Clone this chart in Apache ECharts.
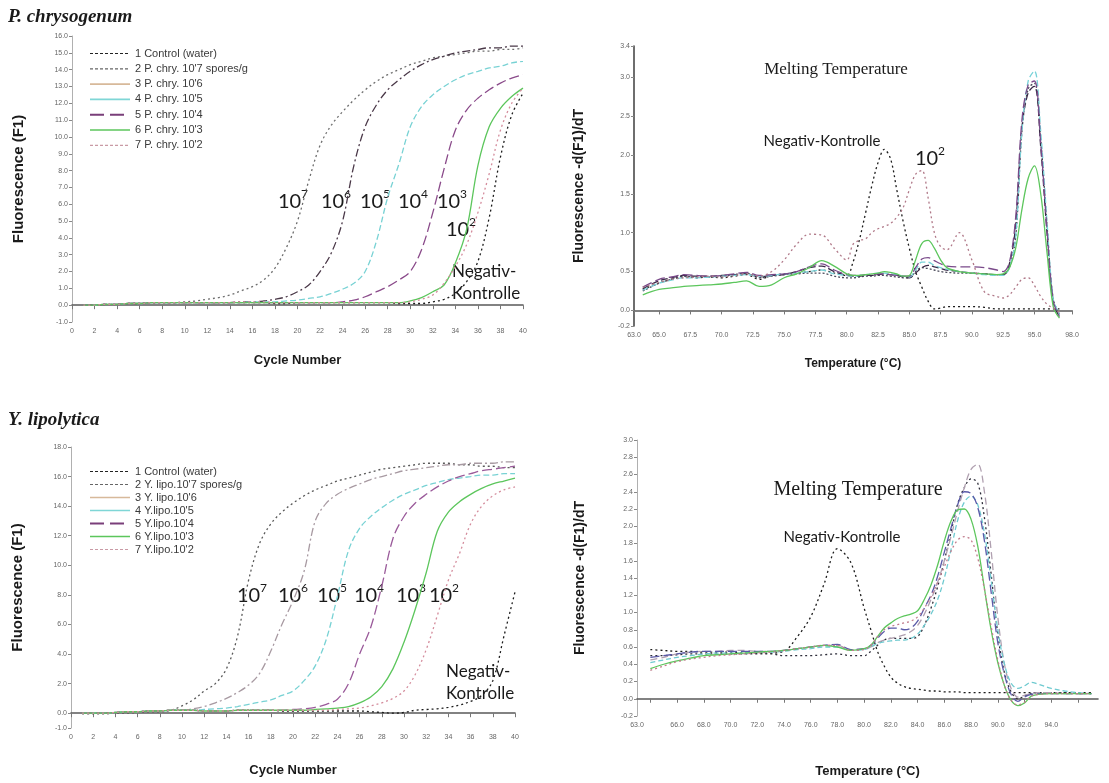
<!DOCTYPE html>
<html>
<head>
<meta charset="utf-8">
<script src="https://cdn.jsdelivr.net/npm/echarts@6/dist/echarts.min.js"></script>
<style>
  html, body { margin: 0; padding: 0; background: #ffffff; }
  #chart { width: 1109px; height: 783px; }
</style>
</head>
<body>
<div id="chart"></div>
<script>
// ---------- amplification data (cycle number vs fluorescence F1) ----------
const cycles = [1,2,3,4,5,6,7,8,9,10,11,12,13,14,15,16,17,18,19,20,
                21,22,23,24,25,26,27,28,29,30,31,32,33,34,35,36,37,38,39,40];

// P. chrysogenum
const pcNeg = [0.0,0.0,0.05,0.05,0.1,0.1,0.15,0.15,0.15,0.15, 0.15,0.15,0.15,0.15,0.15,0.15,0.15,0.1,0.1,0.15,
               0.15,0.15,0.15,0.15,0.15,0.15,0.15,0.15,0.1,0.1, 0.1,0.2,0.35,0.7,1.4,2.6,5.2,8.8,11.3,12.6];
const pc2 = [0.0,0.0,0.05,0.05,0.1,0.1,0.15,0.15,0.15,0.2, 0.25,0.35,0.45,0.6,0.85,1.1,1.5,2.2,3.4,5.0,
             7.4,9.5,10.7,11.5,12.2,12.8,13.3,13.7,14.0,14.3, 14.5,14.7,14.8,14.9,15.0,15.1,15.1,15.2,15.2,15.3];
const pc3 = [0.0,0.0,0.05,0.05,0.1,0.1,0.15,0.15,0.15,0.15, 0.15,0.15,0.15,0.15,0.2,0.2,0.25,0.35,0.5,0.8,
             1.2,2.0,3.1,5.0,8.3,10.6,11.9,12.8,13.4,13.9, 14.3,14.6,14.8,15.0,15.1,15.2,15.3,15.3,15.4,15.4];
const pc4 = [0.0,0.0,0.05,0.05,0.1,0.1,0.15,0.15,0.15,0.15, 0.15,0.15,0.15,0.15,0.15,0.2,0.2,0.2,0.25,0.3,
             0.4,0.5,0.7,0.95,1.3,2.0,3.8,6.4,8.4,10.6, 11.8,12.5,13.0,13.4,13.7,13.9,14.1,14.2,14.4,14.5];
const pc5 = [0.0,0.0,0.05,0.05,0.1,0.1,0.15,0.15,0.15,0.15, 0.15,0.15,0.15,0.15,0.15,0.15,0.15,0.15,0.15,0.15,
             0.15,0.15,0.15,0.2,0.3,0.5,0.8,1.1,1.5,2.0, 3.3,5.5,8.1,10.4,11.6,12.3,12.8,13.2,13.5,13.7];
const pc6 = [0.0,0.0,0.05,0.05,0.1,0.1,0.15,0.15,0.15,0.15, 0.15,0.15,0.15,0.15,0.15,0.15,0.15,0.15,0.15,0.15,
             0.15,0.15,0.15,0.15,0.15,0.15,0.15,0.15,0.15,0.25, 0.45,0.8,1.2,2.5,4.5,8.3,10.6,11.7,12.4,12.9];
const pc7 = [0.0,0.0,0.05,0.05,0.1,0.1,0.15,0.15,0.15,0.15, 0.15,0.15,0.15,0.15,0.2,0.2,0.2,0.15,0.15,0.15,
             0.15,0.15,0.15,0.15,0.15,0.15,0.15,0.15,0.15,0.2, 0.35,0.6,1.3,2.3,3.6,5.5,7.8,10.4,12.0,12.9];

// Y. lipolytica
const ylNeg = [0.0,0.0,0.0,0.05,0.1,0.1,0.15,0.15,0.2,0.2, 0.2,0.15,0.15,0.15,0.2,0.2,0.2,0.2,0.15,0.15,
               0.15,0.15,0.15,0.15,0.15,0.15,0.1,0.05,0.0,0.05, 0.2,0.25,0.3,0.4,0.55,0.8,1.2,2.2,5.2,8.2];
const yl2 = [-0.05,-0.05,-0.05,0.0,0.0,0.05,0.1,0.1,0.2,0.5, 0.9,1.5,2.0,3.0,5.2,9.0,11.5,12.8,13.6,14.2,
             14.7,15.1,15.4,15.7,15.9,16.1,16.3,16.5,16.6,16.7, 16.8,16.9,16.9,16.9,16.8,16.8,16.7,16.7,16.6,16.6];
const yl3 = [0.0,0.0,0.0,0.05,0.1,0.1,0.15,0.15,0.2,0.2, 0.3,0.45,0.7,1.0,1.4,1.9,2.7,4.2,6.0,7.6,
             9.6,13.0,14.2,14.8,15.2,15.5,15.8,16.0,16.2,16.4, 16.5,16.6,16.7,16.8,16.8,16.9,16.9,16.9,17.0,17.0];
const yl4 = [0.0,0.0,0.0,0.05,0.1,0.1,0.15,0.15,0.2,0.2, 0.2,0.25,0.3,0.35,0.45,0.6,0.75,0.9,1.2,1.5,
             2.2,3.2,5.0,7.9,11.0,12.5,13.3,13.9,14.4,14.8, 15.1,15.4,15.6,15.8,15.9,16.0,16.1,16.1,16.2,16.2];
const yl5 = [0.0,0.0,0.0,0.05,0.1,0.1,0.15,0.15,0.2,0.2, 0.2,0.15,0.15,0.15,0.2,0.2,0.2,0.2,0.2,0.25,
             0.3,0.4,0.6,0.95,2.0,4.0,5.8,8.6,11.8,13.3, 14.2,14.8,15.3,15.7,16.0,16.2,16.4,16.5,16.6,16.7];
const yl6 = [0.0,0.0,0.0,0.05,0.1,0.1,0.15,0.15,0.2,0.2, 0.2,0.15,0.15,0.15,0.2,0.2,0.2,0.2,0.2,0.2,
             0.2,0.25,0.3,0.35,0.45,0.7,1.1,1.8,3.0,4.8, 7.0,9.5,12.3,13.6,14.3,14.8,15.2,15.5,15.7,15.9];
const yl7 = [0.0,0.0,0.0,0.05,0.1,0.1,0.15,0.15,0.2,0.2, 0.2,0.15,0.15,0.15,0.2,0.2,0.2,0.2,0.2,0.2,
             0.2,0.2,0.2,0.25,0.3,0.35,0.5,0.7,1.0,1.5, 2.6,4.3,6.6,9.0,10.8,12.8,14.0,14.7,15.1,15.3];

// ---------- melting curves (temperature vs -d(F1)/dT) ----------
const pcTemps = [63.7,65,66,67,68,69,70,71,72,73, 74,75,76,77,78,79,80,80.5,81,81.5,
                 82,82.5,83,83.5,84,84.5,85,85.5,86,86.5, 87,87.5,88,89,90,91,92,92.5,93,93.5,
                 94,94.5,95,95.5,96,96.5,97];
const pcMelt1 = [0.27,0.35,0.4,0.43,0.42,0.43,0.42,0.44,0.46,0.4, 0.45,0.47,0.48,0.5,0.52,0.48,0.45,0.62,0.9,1.25,
                 1.6,1.9,2.07,1.95,1.55,1.15,0.8,0.5,0.3,0.12, 0.02,0.03,0.05,0.05,0.05,0.04,0.02,0.02,0.02,0.02,
                 0.02,0.02,0.02,0.02,0.02,0.02,0.02];
const pcMelt2 = [0.25,0.35,0.4,0.44,0.43,0.43,0.44,0.46,0.48,0.42, 0.44,0.46,0.47,0.48,0.48,0.44,0.42,0.42,0.43,0.44,
                 0.44,0.45,0.45,0.44,0.43,0.42,0.42,0.5,0.55,0.54, 0.52,0.5,0.49,0.48,0.48,0.47,0.46,0.46,0.55,0.95,
                 2.3,2.85,2.92,2.2,1.1,0.15,-0.05];
const pcMelt3 = [0.28,0.38,0.42,0.45,0.44,0.44,0.45,0.46,0.47,0.43, 0.45,0.46,0.5,0.55,0.57,0.5,0.45,0.44,0.44,0.45,
                 0.45,0.46,0.47,0.46,0.45,0.43,0.42,0.48,0.55,0.58, 0.56,0.54,0.52,0.5,0.48,0.47,0.46,0.46,0.6,1.1,
                 2.35,2.8,2.88,2.1,1.0,0.1,-0.08];
const pcMelt4 = [0.26,0.35,0.39,0.42,0.42,0.43,0.44,0.45,0.46,0.44, 0.45,0.47,0.48,0.5,0.52,0.47,0.45,0.44,0.45,0.46,
                 0.47,0.48,0.48,0.47,0.46,0.44,0.43,0.52,0.62,0.62, 0.58,0.55,0.53,0.5,0.48,0.46,0.45,0.45,0.55,0.95,
                 2.3,2.95,3.08,2.3,1.15,0.15,-0.05];
const pcMelt5 = [0.3,0.4,0.43,0.46,0.45,0.44,0.45,0.47,0.49,0.45, 0.46,0.47,0.5,0.56,0.6,0.52,0.46,0.45,0.45,0.46,
                 0.46,0.47,0.47,0.46,0.45,0.44,0.44,0.55,0.66,0.68, 0.64,0.6,0.57,0.56,0.56,0.55,0.52,0.5,0.62,1.2,
                 2.45,2.9,2.95,2.15,1.05,0.12,-0.08];
const pcMelt6 = [0.2,0.27,0.29,0.31,0.32,0.33,0.34,0.36,0.38,0.31, 0.33,0.42,0.47,0.55,0.64,0.57,0.47,0.45,0.45,0.46,
                 0.47,0.48,0.5,0.49,0.47,0.44,0.45,0.65,0.86,0.9, 0.8,0.65,0.55,0.5,0.48,0.47,0.46,0.47,0.55,0.8,
                 1.3,1.7,1.86,1.5,0.75,0.05,-0.1];
const pcMelt7 = [0.3,0.36,0.4,0.42,0.43,0.44,0.43,0.45,0.47,0.44, 0.5,0.65,0.85,0.98,0.97,0.8,0.65,0.85,0.9,0.92,
                 1.0,1.05,1.08,1.12,1.2,1.32,1.55,1.75,1.8,1.45, 1.0,0.82,0.78,1.0,0.65,0.24,0.18,0.16,0.2,0.3,
                 0.4,0.42,0.32,0.18,0.08,0.03,-0.02];

const ylTemps = [64,65,66,67,68,69,70,71,72,73, 74,75,76,77,78,79,80,80.5,81,81.5,
                 82,82.5,83,83.5,84,84.5,85,85.5,86,86.5, 87,87.5,88,88.5,89,89.5,90,90.5,91,91.5,
                 92,92.5,93,94,95,96,97];
const ylMelt1 = [0.57,0.56,0.55,0.55,0.54,0.54,0.54,0.53,0.53,0.53, 0.55,0.72,0.95,1.33,1.74,1.58,1.05,0.8,0.55,0.38,
                 0.25,0.18,0.14,0.12,0.11,0.1,0.09,0.09,0.08,0.08, 0.08,0.07,0.07,0.07,0.07,0.07,0.07,0.07,0.07,0.07,
                 0.07,0.07,0.07,0.07,0.07,0.07,0.07];
const ylMelt2 = [0.5,0.5,0.51,0.52,0.52,0.52,0.52,0.52,0.52,0.52, 0.5,0.5,0.5,0.51,0.52,0.5,0.5,0.55,0.62,0.68,
                 0.7,0.7,0.7,0.7,0.72,0.85,1.05,1.3,1.6,1.93, 2.26,2.45,2.55,2.5,2.1,1.45,0.75,0.3,0.08,0.0,
                 0.03,0.06,0.07,0.07,0.07,0.06,0.06];
const ylMelt3 = [0.45,0.48,0.52,0.54,0.55,0.55,0.56,0.56,0.55,0.55, 0.56,0.58,0.6,0.62,0.62,0.57,0.58,0.6,0.65,0.68,
                 0.7,0.72,0.74,0.78,0.85,0.98,1.15,1.35,1.6,1.88, 2.18,2.45,2.66,2.72,2.4,1.72,0.95,0.4,0.12,0.02,
                 0.04,0.06,0.07,0.07,0.06,0.06,0.06];
const ylMelt4 = [0.42,0.45,0.48,0.5,0.52,0.53,0.53,0.53,0.54,0.54, 0.55,0.57,0.58,0.6,0.6,0.56,0.57,0.6,0.64,0.66,
                 0.67,0.68,0.68,0.7,0.75,0.85,0.98,1.15,1.4,1.73, 2.07,2.28,2.35,2.25,1.92,1.38,0.8,0.4,0.18,0.12,
                 0.15,0.19,0.17,0.12,0.09,0.07,0.06];
const ylMelt5 = [0.48,0.5,0.52,0.54,0.55,0.55,0.55,0.55,0.55,0.55, 0.56,0.58,0.6,0.62,0.63,0.57,0.58,0.62,0.7,0.78,
                 0.82,0.82,0.8,0.82,0.9,1.05,1.2,1.42,1.7,1.98, 2.25,2.4,2.38,2.22,1.83,1.24,0.65,0.28,0.05,-0.03,
                 0.02,0.05,0.06,0.06,0.06,0.06,0.06];
const ylMelt6 = [0.35,0.4,0.44,0.47,0.5,0.51,0.52,0.53,0.54,0.55, 0.56,0.58,0.6,0.62,0.6,0.56,0.58,0.62,0.72,0.82,
                 0.88,0.93,0.96,0.98,1.02,1.15,1.32,1.55,1.83,2.06, 2.19,2.2,2.08,1.77,1.28,0.8,0.42,0.15,-0.02,-0.08,
                 -0.05,0.03,0.05,0.06,0.06,0.06,0.06];
const ylMelt7 = [0.33,0.38,0.43,0.46,0.48,0.5,0.51,0.52,0.53,0.54, 0.56,0.58,0.6,0.62,0.62,0.56,0.57,0.62,0.72,0.8,
                 0.84,0.86,0.88,0.9,0.95,1.05,1.18,1.35,1.53,1.71, 1.84,1.88,1.84,1.63,1.27,0.84,0.45,0.15,-0.02,-0.07,
                 -0.04,0.03,0.05,0.06,0.06,0.06,0.06];

// ---------- legend entries and axis tick labels ----------
const pcNames = ['1 Control (water)', "2 P. chry. 10'7 spores/g", "3 P. chry. 10'6", "4 P. chry. 10'5",
                 "5 P. chry. 10'4", "6 P. chry. 10'3", "7 P. chry. 10'2"];
const ylNames = ['1 Control (water) ', "2 Y. lipo.10'7 spores/g", "3 Y. lipo.10'6", "4 Y.lipo.10'5",
                 "5 Y.lipo.10'4", "6 Y.lipo.10'3", "7 Y.lipo.10'2"];
const pcFluorTicks = [-1,0,1,2,3,4,5,6,7,8,9,10,11,12,13,14,15,16];
const ylFluorTicks = [-1,0,2,4,6,8,10,12,14,16,18];
const pcTempTicks = [63,65,67.5,70,72.5,75,77.5,80,82.5,85,87.5,90,92.5,95,98];
const pcDerivTicks = [-0.2,0,0.5,1.0,1.5,2.0,2.5,3.0,3.4];
const ylTempLabels = [63,66,68,70,72,74,76,78,80,82,84,86,88,90,92,94];
const ylTempTicks = [64,66,68,70,72,74,76,78,80,82,84,86,88,90,92,94,96];
const ylDerivTicks = [-0.2,0,0.2,0.4,0.6,0.8,1.0,1.2,1.4,1.6,1.8,2.0,2.2,2.4,2.6,2.8,3.0];

// ---------- styles ----------
const SANS = '"Liberation Sans", Arial, sans-serif';
const SERIF = '"Liberation Serif", "Times New Roman", serif';
const ANNO = 'Lato, "Open Sans", sans-serif';

const pcAmpStyle = [
  { color: '#1c1c1c', type: [2, 3] },
  { color: '#6e6e6e', type: [2, 3] },
  { color: '#4a3848', type: [8, 3, 2, 3] },
  { color: '#78d2d4', type: [6, 3] },
  { color: '#8a4a8a', type: [10, 4] },
  { color: '#5cc65c', type: 'solid' },
  { color: '#d48c9c', type: [2, 3] }
];
const ylAmpStyle = [
  { color: '#1c1c1c', type: [2, 3] },
  { color: '#5a5a5a', type: [2, 3] },
  { color: '#a89aa2', type: [8, 3, 2, 3] },
  { color: '#78d2d4', type: [6, 3] },
  { color: '#9a5a9a', type: [10, 4] },
  { color: '#5cc65c', type: 'solid' },
  { color: '#d48c9c', type: [2, 3] }
];
const pcMeltStyle = [
  { color: '#1c1c1c', type: [2, 3] },
  { color: '#4a4a5a', type: [2, 2] },
  { color: '#3b2a48', type: [7, 3] },
  { color: '#78d2d8', type: [6, 3] },
  { color: '#7a4a8a', type: [10, 4] },
  { color: '#5cc65c', type: 'solid' },
  { color: '#b07888', type: [2, 3] }
];
const ylMeltStyle = [
  { color: '#1c1c1c', type: [2, 3] },
  { color: '#2e2e3a', type: [2, 3] },
  { color: '#b0a0b0', type: [7, 4] },
  { color: '#6fcad0', type: [5, 3] },
  { color: '#5a5aa8', type: [9, 4] },
  { color: '#5cc65c', type: 'solid' },
  { color: '#c07c8c', type: [2, 3] }
];
// line samples shown next to the legend entries
const legendLine = [
  { color: '#222222', type: [3, 2], width: 1.2, opacity: 1 },
  { color: '#666666', type: [3, 2], width: 1.2, opacity: 1 },
  { color: '#d7b99a', type: 'solid', width: 1.6, opacity: 1 },
  { color: '#7fd6d6', type: 'solid', width: 1.6, opacity: 1 },
  { color: '#7a3f7a', type: [14, 6], width: 2, opacity: 1 },
  { color: '#5cc65c', type: 'solid', width: 1.6, opacity: 1 },
  { color: '#c99aa5', type: [3, 2], width: 1.2, opacity: 1 }
];

function lineSeries(name, xs, ys, style, idx) {
  return {
    type: 'line', name: name, xAxisIndex: idx, yAxisIndex: idx,
    data: xs.map((x, i) => [x, ys[i]]),
    symbol: 'none', showSymbol: false, smooth: 0.35, silent: true,
    lineStyle: { color: style.color, type: style.type, width: 1.3 },
    itemStyle: { color: style.color }
  };
}

function xAxisDef(idx, opts) {
  return Object.assign({
    type: 'value', gridIndex: idx,
    nameLocation: 'middle',
    nameTextStyle: { fontFamily: SANS, fontWeight: 'bold', fontSize: 13, color: '#1a1a1a' },
    axisLine: { show: true, lineStyle: { color: '#5a5a5a', width: 1.6 } },
    axisTick: { show: true, length: 4, lineStyle: { color: '#777', width: 1 } },
    axisLabel: { fontSize: 7, color: '#666', fontFamily: SANS, margin: 6 },
    splitLine: { show: false }
  }, opts);
}
function yAxisDef(idx, opts) {
  return Object.assign({
    type: 'value', gridIndex: idx,
    nameLocation: 'middle', nameRotate: 90,
    nameTextStyle: { fontFamily: SANS, fontWeight: 'bold', fontSize: 15, color: '#1a1a1a' },
    axisLine: { show: true, lineStyle: { color: '#b0b0b0', width: 1 } },
    axisTick: { show: true, length: 3, lineStyle: { color: '#888', width: 1 } },
    axisLabel: { fontSize: 7, color: '#666', fontFamily: SANS, margin: 4,
                 formatter: v => v.toFixed(1) },
    splitLine: { show: false }
  }, opts);
}

const series = [];
[pcNeg, pc2, pc3, pc4, pc5, pc6, pc7].forEach((v, i) =>
  series.push(lineSeries(pcNames[i], cycles, v, pcAmpStyle[i], 0)));
[pcMelt1, pcMelt2, pcMelt3, pcMelt4, pcMelt5, pcMelt6, pcMelt7].forEach((v, i) =>
  series.push(lineSeries('Tm ' + pcNames[i], pcTemps, v, pcMeltStyle[i], 1)));
[ylNeg, yl2, yl3, yl4, yl5, yl6, yl7].forEach((v, i) =>
  series.push(lineSeries(ylNames[i], cycles, v, ylAmpStyle[i], 2)));
[ylMelt1, ylMelt2, ylMelt3, ylMelt4, ylMelt5, ylMelt6, ylMelt7].forEach((v, i) =>
  series.push(lineSeries('Tm ' + ylNames[i], ylTemps, v, ylMeltStyle[i], 3)));

function legendDef(names, top, rowGap, lineH) {
  return {
    show: true, orient: 'vertical', left: 89, top: top, padding: 0,
    itemWidth: 40, itemHeight: 9, itemGap: rowGap,
    selectedMode: false,
    textStyle: { fontFamily: SANS, fontSize: 11, color: '#3a3a3a', lineHeight: lineH },
    data: names.map((n, i) => ({ name: n, lineStyle: legendLine[i], itemStyle: { opacity: 0 } }))
  };
}

function sup(base, exp, x, y) {
  return {
    type: 'text', x: x, y: y, silent: true,
    style: {
      text: '{b|' + base + '}{s|' + exp + '}',
      align: 'center', verticalAlign: 'middle',
      rich: {
        b: { fontFamily: ANNO, fontSize: 20, fill: '#1a1a1a', lineHeight: 24, verticalAlign: 'bottom' },
        s: { fontFamily: ANNO, fontSize: 12, fill: '#1a1a1a', lineHeight: 24, verticalAlign: 'top' }
      }
    }
  };
}
function note(text, x, y, font, align) {
  return {
    type: 'text', x: x, y: y, silent: true,
    style: { text: text, font: font, fill: '#1a1a1a', align: align || 'center', verticalAlign: 'middle' }
  };
}

const option = {
  animation: false,
  backgroundColor: '#ffffff',
  grid: [
    { left: 72, top: 36, width: 451, height: 286 },
    { left: 634, top: 46, width: 438, height: 280 },
    { left: 71, top: 447, width: 444, height: 281 },
    { left: 637, top: 440, width: 461, height: 276 }
  ],
  xAxis: [
    xAxisDef(0, { min: 0, max: 40, interval: 2, name: 'Cycle Number', nameGap: 32 }),
    xAxisDef(1, { min: 63, max: 98, name: 'Temperature (°C)', nameGap: 32,
      nameTextStyle: { fontFamily: SANS, fontWeight: 'bold', fontSize: 12, color: '#1a1a1a' },
      axisTick: { show: true, length: 4, customValues: pcTempTicks, lineStyle: { color: '#777' } },
      axisLabel: { fontSize: 7, color: '#666', fontFamily: SANS, margin: 6, customValues: pcTempTicks,
                   formatter: v => v.toFixed(1) } }),
    xAxisDef(2, { min: 0, max: 40, interval: 2, name: 'Cycle Number', nameGap: 36 }),
    xAxisDef(3, { min: 63, max: 97.5, name: 'Temperature (°C)', nameGap: 49,
      nameTextStyle: { fontFamily: SANS, fontWeight: 'bold', fontSize: 13, color: '#1a1a1a' },
      axisTick: { show: true, length: 4, customValues: ylTempTicks, lineStyle: { color: '#777' } },
      axisLabel: { fontSize: 7, color: '#666', fontFamily: SANS, margin: 6, customValues: ylTempLabels,
                   formatter: v => v.toFixed(1) } })
  ],
  yAxis: [
    yAxisDef(0, { min: -1, max: 16, name: 'Fluorescence (F1)', nameGap: 46,
      axisTick: { show: true, length: 3, customValues: pcFluorTicks, lineStyle: { color: '#888' } },
      axisLabel: { fontSize: 7, color: '#666', fontFamily: SANS, margin: 4, customValues: pcFluorTicks,
                   formatter: v => v.toFixed(1) } }),
    yAxisDef(1, { min: -0.2, max: 3.4, name: 'Fluorescence -d(F1)/dT', nameGap: 48,
      nameTextStyle: { fontFamily: SANS, fontWeight: 'bold', fontSize: 14, color: '#1a1a1a' },
      axisLine: { show: true, lineStyle: { color: '#4a4a4a', width: 1.6 } },
      axisTick: { show: true, length: 3, customValues: pcDerivTicks, lineStyle: { color: '#888' } },
      axisLabel: { fontSize: 7, color: '#666', fontFamily: SANS, margin: 4, customValues: pcDerivTicks,
                   formatter: v => v.toFixed(1) } }),
    yAxisDef(2, { min: -1, max: 18, name: 'Fluorescence (F1)', nameGap: 46,
      axisTick: { show: true, length: 3, customValues: ylFluorTicks, lineStyle: { color: '#888' } },
      axisLabel: { fontSize: 7, color: '#666', fontFamily: SANS, margin: 4, customValues: ylFluorTicks,
                   formatter: v => v.toFixed(1) } }),
    yAxisDef(3, { min: -0.2, max: 3.0, name: 'Fluorescence -d(F1)/dT', nameGap: 50,
      nameTextStyle: { fontFamily: SANS, fontWeight: 'bold', fontSize: 14, color: '#1a1a1a' },
      axisTick: { show: true, length: 3, customValues: ylDerivTicks, lineStyle: { color: '#888' } },
      axisLabel: { fontSize: 7, color: '#666', fontFamily: SANS, margin: 4, customValues: ylDerivTicks,
                   formatter: v => v.toFixed(1) } })
  ],
  legend: [legendDef(pcNames, 47, 2.3, 13), legendDef(ylNames, 466, 2, 10)],
  series: series,
  graphic: [
    note('P. chrysogenum', 8, 17, 'italic bold 19px ' + SERIF, 'left'),
    note('Y. lipolytica', 8, 420, 'italic bold 19px ' + SERIF, 'left'),
    // amplification annotations, P. chrysogenum
    sup('10', '7', 293, 200), sup('10', '6', 336, 200), sup('10', '5', 375, 200),
    sup('10', '4', 413, 200), sup('10', '3', 452, 200), sup('10', '2', 461, 228),
    note('Negativ-', 452, 272, '17px ' + ANNO, 'left'),
    note('Kontrolle', 452, 294, '17px ' + ANNO, 'left'),
    // melting annotations, P. chrysogenum
    note('Melting Temperature', 836, 70, '17px ' + SERIF),
    note('Negativ-Kontrolle', 822, 141, '15px ' + ANNO),
    sup('10', '2', 930, 157),
    // amplification annotations, Y. lipolytica
    sup('10', '7', 252, 594), sup('10', '6', 293, 594), sup('10', '5', 332, 594),
    sup('10', '4', 369, 594), sup('10', '3', 411, 594), sup('10', '2', 444, 594),
    note('Negativ-', 446, 672, '17px ' + ANNO, 'left'),
    note('Kontrolle', 446, 694, '17px ' + ANNO, 'left'),
    // melting annotations, Y. lipolytica
    note('Melting Temperature', 858, 490, '20px ' + SERIF),
    note('Negativ-Kontrolle', 842, 537, '15px ' + ANNO)
  ]
};

const chart = echarts.init(document.getElementById('chart'), null, { renderer: 'canvas' });
chart.setOption(option);
</script>
</body>
</html>
